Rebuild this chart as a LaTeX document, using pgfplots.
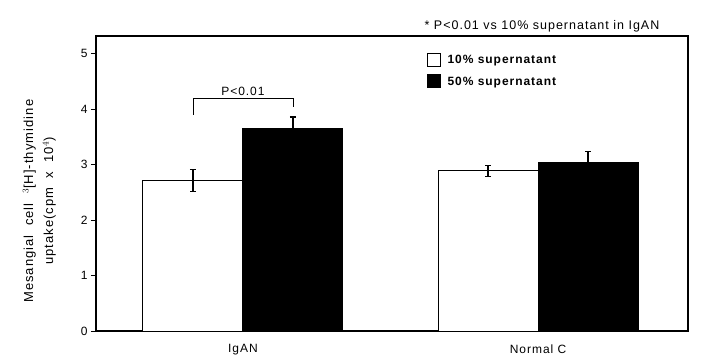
\documentclass[border=0pt]{standalone}
\usepackage{pgfplots}
\pgfplotsset{compat=1.18}
\usepackage{fontspec}
\setmainfont{Liberation Sans}[LetterSpace=8]
\begin{document}
\begin{tikzpicture}[x=1pt,y=1pt]
\begin{axis}[
  at={(0,0)}, anchor=south west,
  scale only axis, width=592pt, height=295pt,
  xmin=-0.498, xmax=1.508, ymin=0, ymax=5.32,
  axis line style={line width=1.3pt},
  xtick={0,1}, xticklabels={IgAN, Normal C},
  x tick style={draw=none},
  ytick={0,1,2,3,4,5},
  y tick style={line width=1pt, black},
  tick align=outside, major tick length=5pt,
  ytick pos=left, xtick pos=bottom,
  tick label style={font=\fontsize{12}{14}\selectfont},
  xticklabel style={yshift=-5pt},
  /pgf/number format/assume math mode=true,
  ylabel={Mesangial\ \ cell\ \ $^{3}$[H]-thymidine\\uptake(cpm\ \ x\ \ 10$^{4}$)},
  ylabel style={align=center, font=\fontsize{13}{20}\selectfont, at={(axis description cs:-0.062,0.44)}, anchor=south},
  ybar, bar width=100pt,
  legend style={at={(rel axis cs:0.553,0.95)}, anchor=north west, draw=none, fill=none,
    font=\bfseries\fontsize{12}{14}\selectfont, row sep=7pt,
    /tikz/every odd column/.append style={column sep=5pt}},
  legend image code/.code={\draw[#1, line width=1pt] (0pt,-6pt) rectangle (13pt,7pt);},
  clip=false,
]
\addplot[bar shift=-50pt, fill=white, draw=black, line width=1pt,
  error bars/.cd, y dir=both, y explicit,
  error bar style={line width=1.2pt, black},
  error mark options={rotate=90, mark size=3pt, line width=1.2pt}]
  coordinates {(0,2.71) +- (0,0.2) (1,2.89) +- (0,0.1)};
\addlegendentry{10\% supernatant}
\addplot[bar shift=50pt, fill=black, draw=black, line width=1pt,
  error bars/.cd, y dir=both, y explicit,
  error bar style={line width=1.2pt, black},
  error mark options={rotate=90, mark size=3pt, line width=1.2pt}]
  coordinates {(0,3.65) +- (0,0.21) (1,3.03) +- (0,0.2)};
\addlegendentry{50\% supernatant}
\draw[line width=0.8pt] (axis cs:-0.1695,3.9) -- (axis cs:-0.1695,4.2) -- (axis cs:0.1695,4.2) -- (axis cs:0.1695,4.04);
\node[anchor=south, font=\fontsize{12}{14}\selectfont, inner sep=1pt] at (axis cs:0,4.22) {P<0.01};
\node[anchor=south east, font=\fontsize{12.5}{14}\selectfont, inner sep=0pt] at (rel axis cs:0.952,1.014) {* P<0.01 vs 10\% supernatant in IgAN};
\end{axis}
\path (-96,-30) rectangle (613,331);
\end{tikzpicture}
\end{document}
